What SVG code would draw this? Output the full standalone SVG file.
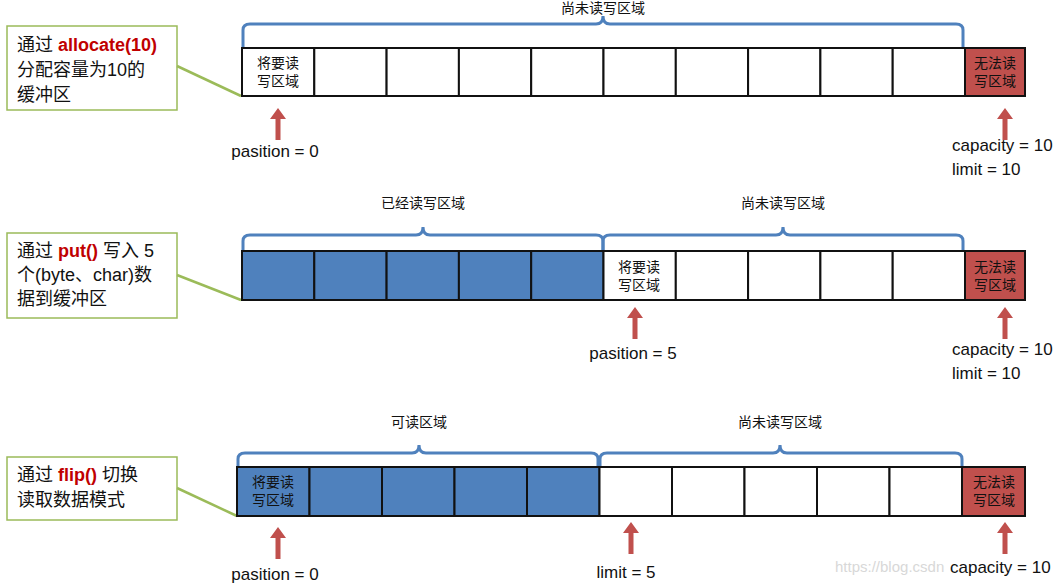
<svg xmlns="http://www.w3.org/2000/svg" width="1060" height="583" viewBox="0 0 1060 583">
<style>
text{font-family:"Liberation Sans","Noto Sans CJK SC",sans-serif;fill:#111}
.cell{fill:#fff;stroke:#111;stroke-width:2}
.blue{fill:#4f81bd;stroke:#111;stroke-width:2}
.red{fill:#c0504d;stroke:#111;stroke-width:2}
.brace{fill:none;stroke:#4f81bd;stroke-width:3}
.note{fill:#fff;stroke:#9bbb59;stroke-width:1.5}
.lead{stroke:#9bbb59;stroke-width:2.5}
.arr{fill:#c0504d}
.small{font-size:14px}
.lbl{font-size:17px}
.nt{font-size:18px}
.kw{fill:#c00000;font-weight:bold}
</style>
<defs>
<path id="up" d="M0,0 L8,11 L2.5,11 L2.5,32 L-2.5,32 L-2.5,11 L-8,11 Z"/>
</defs>
<g id="notes">
<g id="note1"><rect class="note" x="7" y="26" width="170" height="84"/><text class="nt" x="17" y="51">通过 <tspan class="kw">allocate(10)</tspan></text><text class="nt" x="17" y="76">分配容量为10的</text><text class="nt" x="17" y="101">缓冲区</text></g>
<g id="note2"><rect class="note" x="7" y="233" width="170" height="85"/><text class="nt" x="17" y="257">通过 <tspan class="kw">put()</tspan> 写入 5</text><text class="nt" x="17" y="281">个(byte、char)数</text><text class="nt" x="17" y="305">据到缓冲区</text></g>
<g id="note3"><rect class="note" x="7" y="457" width="170" height="63"/><text class="nt" x="17" y="481">通过 <tspan class="kw">flip()</tspan> 切换</text><text class="nt" x="17" y="506">读取数据模式</text></g>
</g>
<g id="connectors">
<line class="lead" x1="177" y1="66" x2="241" y2="96"/>
<line class="lead" x1="177" y1="275" x2="241" y2="300"/>
<line class="lead" x1="177" y1="488" x2="237" y2="516"/>
<path class="brace" d="M243,48 V30 Q243,24 250,24 H596 Q603,24 603,16 Q603,24 610,24 H956 Q963,24 963,30 V48"/>
<path class="brace" d="M243,251 V241 Q243,235 250,235 H416 Q423,235 423,227 Q423,235 430,235 H596 Q603,235 603,241 V251"/>
<path class="brace" d="M603,251 V241 Q603,235 610,235 H776 Q783,235 783,227 Q783,235 790,235 H956 Q963,235 963,241 V251"/>
<path class="brace" d="M238,467 V459 Q238,453 245,453 H412 Q419,453 419,445 Q419,453 426,453 H591 Q598,453 598,459 V467"/>
<path class="brace" d="M600,467 V459 Q600,453 607,453 H773 Q780,453 780,445 Q780,453 787,453 H955 Q962,453 962,459 V467"/>
<use class="arr" href="#up" x="278" y="108"/>
<use class="arr" href="#up" x="1005" y="108"/>
<use class="arr" href="#up" x="635" y="307"/>
<use class="arr" href="#up" x="1005" y="307"/>
<use class="arr" href="#up" x="278" y="527"/>
<use class="arr" href="#up" x="631" y="522"/>
<use class="arr" href="#up" x="1005" y="522"/>
</g>
<g id="buffer1">
<rect class="cell" x="242" y="48" width="72.3" height="48"/><rect class="cell" x="314.3" y="48" width="72.3" height="48"/><rect class="cell" x="386.6" y="48" width="72.3" height="48"/><rect class="cell" x="458.9" y="48" width="72.3" height="48"/><rect class="cell" x="531.2" y="48" width="72.3" height="48"/><rect class="cell" x="603.5" y="48" width="72.3" height="48"/><rect class="cell" x="675.8" y="48" width="72.3" height="48"/><rect class="cell" x="748.1" y="48" width="72.3" height="48"/><rect class="cell" x="820.4" y="48" width="72.3" height="48"/><rect class="cell" x="892.7" y="48" width="72.3" height="48"/>
<rect class="red" x="965" y="48" width="60" height="48"/>
<text class="small" x="278" y="68" text-anchor="middle">将要读</text><text class="small" x="278" y="86" text-anchor="middle">写区域</text>
<text class="small" x="995" y="68" text-anchor="middle">无法读</text><text class="small" x="995" y="86" text-anchor="middle">写区域</text>
<text class="small" x="603" y="13" text-anchor="middle">尚未读写区域</text>
<text class="lbl" x="275" y="157" text-anchor="middle">pasition = 0</text>
<text class="lbl" x="952" y="151">capacity = 10</text><text class="lbl" x="952" y="175">limit = 10</text>
</g>
<g id="buffer2">
<rect class="blue" x="242" y="251" width="72.3" height="49"/><rect class="blue" x="314.3" y="251" width="72.3" height="49"/><rect class="blue" x="386.6" y="251" width="72.3" height="49"/><rect class="blue" x="458.9" y="251" width="72.3" height="49"/><rect class="blue" x="531.2" y="251" width="72.3" height="49"/><rect class="cell" x="603.5" y="251" width="72.3" height="49"/><rect class="cell" x="675.8" y="251" width="72.3" height="49"/><rect class="cell" x="748.1" y="251" width="72.3" height="49"/><rect class="cell" x="820.4" y="251" width="72.3" height="49"/><rect class="cell" x="892.7" y="251" width="72.3" height="49"/>
<rect class="red" x="965" y="251" width="60" height="49"/>
<text class="small" x="639" y="272" text-anchor="middle">将要读</text><text class="small" x="639" y="290" text-anchor="middle">写区域</text>
<text class="small" x="995" y="272" text-anchor="middle">无法读</text><text class="small" x="995" y="290" text-anchor="middle">写区域</text>
<text class="small" x="423" y="208" text-anchor="middle">已经读写区域</text>
<text class="small" x="783" y="208" text-anchor="middle">尚未读写区域</text>
<text class="lbl" x="633" y="359" text-anchor="middle">pasition = 5</text>
<text class="lbl" x="952" y="355">capacity = 10</text><text class="lbl" x="952" y="379">limit = 10</text>
</g>
<g id="buffer3">
<rect class="blue" x="237" y="467" width="72.5" height="49"/><rect class="blue" x="309.5" y="467" width="72.5" height="49"/><rect class="blue" x="382" y="467" width="72.5" height="49"/><rect class="blue" x="454.5" y="467" width="72.5" height="49"/><rect class="blue" x="527" y="467" width="72.5" height="49"/><rect class="cell" x="599.5" y="467" width="72.5" height="49"/><rect class="cell" x="672" y="467" width="72.5" height="49"/><rect class="cell" x="744.5" y="467" width="72.5" height="49"/><rect class="cell" x="817" y="467" width="72.5" height="49"/><rect class="cell" x="889.5" y="467" width="72.5" height="49"/>
<rect class="red" x="962" y="467" width="63" height="49"/>
<text class="small" x="273" y="487" text-anchor="middle">将要读</text><text class="small" x="273" y="505" text-anchor="middle">写区域</text>
<text class="small" x="994" y="487" text-anchor="middle">无法读</text><text class="small" x="994" y="505" text-anchor="middle">写区域</text>
<text class="small" x="419" y="427" text-anchor="middle">可读区域</text>
<text class="small" x="780" y="427" text-anchor="middle">尚未读写区域</text>
<text class="lbl" x="275" y="580" text-anchor="middle">pasition = 0</text>
<text class="lbl" x="626" y="578" text-anchor="middle">limit = 5</text>
<text x="835" y="572" style="font-size:15px;fill:#d8d8d8">https://blog.csdn</text>
<text class="lbl" x="950" y="573">capacity = 10</text>
</g>
</svg>
